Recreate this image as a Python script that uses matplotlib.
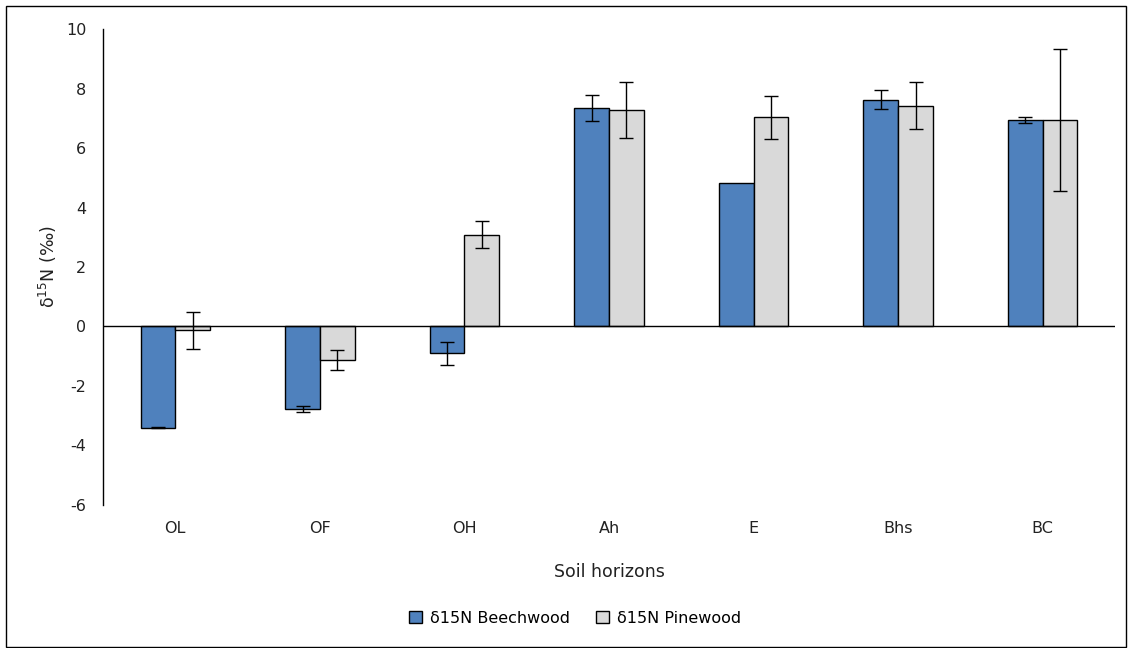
import matplotlib.pyplot as plt
import numpy as np
from matplotlib.patches import Rectangle

plt.rcParams['axes.unicode_minus'] = False

horizons = ['OL', 'OF', 'OH', 'Ah', 'E', 'Bhs', 'BC']
beech = [-3.40, -2.78, -0.91, 7.35, 4.81, 7.63, 6.94]
beech_err = [0.02, 0.09, 0.40, 0.45, np.nan, 0.33, 0.10]
pine = [-0.13, -1.12, 3.08, 7.28, 7.04, 7.43, 6.94]
pine_err = [0.62, 0.33, 0.45, 0.94, 0.72, 0.78, 2.40]

x = np.arange(len(horizons))
w = 0.24

fig = plt.figure(figsize=(11.32, 6.48), dpi=100)
ax = fig.add_axes([0.091, 0.221, 0.894, 0.734])

err_kw = dict(ecolor='black', elinewidth=1, capsize=5, capthick=1)
ax.bar(x - w / 2, beech, w, color='#4F81BD', edgecolor='black', linewidth=1,
       yerr=beech_err, error_kw=err_kw, label='δ15N Beechwood')
ax.bar(x + w / 2, pine, w, color='#D9D9D9', edgecolor='black', linewidth=1,
       yerr=pine_err, error_kw=err_kw, label='δ15N Pinewood')

ax.axhline(0, color='black', linewidth=1)
ax.set_xlim(-0.5, len(horizons) - 0.5)
ax.set_ylim(-6, 10)
ax.set_yticks(np.arange(-6, 11, 2))
ax.set_xticks(x)
ax.set_xticklabels(horizons)
ax.tick_params(axis='both', length=0, labelsize=11.5, colors='#222222')
ax.tick_params(axis='y', pad=12)
ax.tick_params(axis='x', pad=12)
for s in ['top', 'right', 'bottom']:
    ax.spines[s].set_visible(False)
ax.spines['left'].set_linewidth(1)

ax.set_ylabel('δ$^{15}$N (‰)', fontsize=12.5, color='#222222', labelpad=5)
ax.set_xlabel('Soil horizons', fontsize=12.5, color='#222222', labelpad=19)

fig.legend(loc='center', bbox_to_anchor=(0.508, 0.046), ncol=2, frameon=False,
           fontsize=11.5, handlelength=0.8, handleheight=0.8, columnspacing=1.6,
           handletextpad=0.5)

fig.patches.append(Rectangle((0.005, 0.002), 0.99, 0.989, transform=fig.transFigure,
                             fill=False, edgecolor='black', linewidth=1))

fig.savefig('out.png', dpi=100)
